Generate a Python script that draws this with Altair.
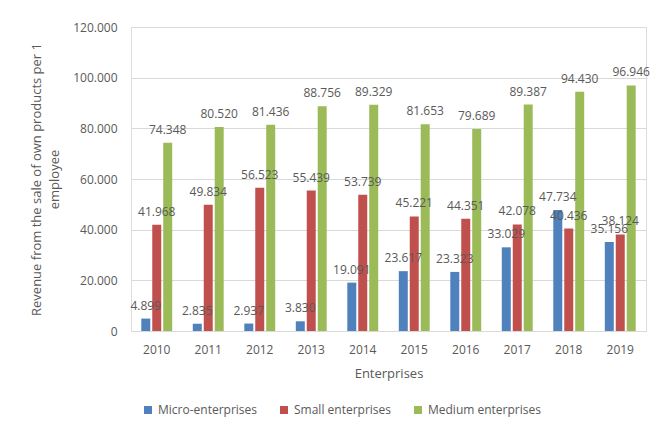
import altair as alt
import pandas as pd

years = ["2010", "2011", "2012", "2013", "2014", "2015", "2016", "2017", "2018", "2019"]
series = ["Micro-enterprises", "Small enterprises", "Medium enterprises"]
micro = [4.899, 2.835, 2.937, 3.830, 19.091, 23.617, 23.323, 33.029, 47.734, 35.156]
small = [41.968, 49.834, 56.523, 55.439, 53.739, 45.221, 44.351, 42.078, 40.436, 38.124]
medium = [74.348, 80.520, 81.436, 88.756, 89.329, 81.653, 79.689, 89.387, 94.430, 96.946]
colors = ["#4f81bd", "#c0504d", "#9bbb59"]

rows = []
for s, vals in zip(series, [micro, small, medium]):
    for y, v in zip(years, vals):
        rows.append({"year": y, "series": s, "value": v})
df = pd.DataFrame(rows)

FONT = "Open Sans"
GRAY = "#595959"

x = alt.X("year:N", sort=years,
          scale=alt.Scale(paddingInner=0.4, paddingOuter=0.2),
          axis=alt.Axis(title="Enterprises", labelAngle=0, ticks=False,
                        domainColor="#d9d9d9", labelPadding=13, titlePadding=12,
                        labelFont=FONT, titleFont=FONT, labelFontSize=12,
                        titleFontSize=13, labelColor=GRAY, titleColor=GRAY,
                        titleFontWeight="normal"))
y = alt.Y("value:Q",
          scale=alt.Scale(domain=[0, 120]),
          axis=alt.Axis(title=["Revenue from the sale of own products per 1", "employee"],
                        values=[0, 20, 40, 60, 80, 100, 120],
                        labelExpr="datum.value == 0 ? '0' : format(datum.value, '.3f')",
                        domain=False, ticks=False, gridColor="#d9d9d9",
                        labelPadding=14, titlePadding=11, titleLineHeight=18,
                        labelFont=FONT, titleFont=FONT, labelFontSize=12,
                        titleFontSize=13, labelColor=GRAY, titleColor=GRAY,
                        titleFontWeight="normal"))
xoff = alt.XOffset("series:N", sort=series,
                   scale=alt.Scale(paddingInner=0.18, paddingOuter=0))
color = alt.Color("series:N", sort=series,
                  scale=alt.Scale(domain=series, range=colors),
                  legend=alt.Legend(title=None, orient="none", direction="horizontal",
                                    legendX=11, legendY=377, symbolType="square",
                                    symbolSize=64, symbolStrokeWidth=0,
                                    labelFont=FONT, labelFontSize=12, labelColor=GRAY,
                                    columnPadding=20, labelOffset=4))

bars = alt.Chart(df).mark_bar().encode(x=x, y=y, xOffset=xoff, color=color)
labels = alt.Chart(df).mark_text(baseline="bottom", dy=-6, font=FONT, fontSize=12,
                                 color=GRAY).encode(
    x=x, y=y, xOffset=xoff,
    text=alt.Text("value:Q", format=".3f"))

chart = alt.layer(bars, labels).properties(
    width=515, height=304,
    autosize=alt.AutoSizeParams(type="none"),
    padding={"left": 131, "top": 27, "right": 10, "bottom": 97},
).configure_view(stroke=None).configure(background="white")

chart.save("out.html", embed_options={"renderer": "svg", "actions": False})
